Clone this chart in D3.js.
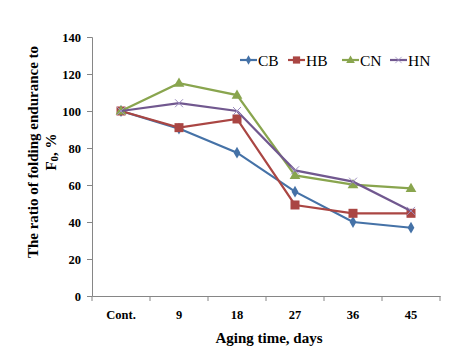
<!DOCTYPE html>
<html><head><meta charset="utf-8">
<script src="https://cdn.jsdelivr.net/npm/d3@7"></script>
<style>body{margin:0;background:#fff}svg{display:block}</style>
</head><body>
<svg id="c" width="467" height="358"></svg>
<script>
const categories = ["Cont.", "9", "18", "27", "36", "45"];
const seriesNames = ["CB", "HB", "CN", "HN"];
const CB = [100, 90.5, 77.5, 56.4, 40, 36.9];
const HB = [100, 91, 95.7, 49.2, 44.7, 44.7];
const CN = [100, 115, 108.6, 65.2, 60.2, 58.2];
const HN = [100, 104.2, 100, 67.9, 61.8, 46];
const yTicks = [0, 20, 40, 60, 80, 100, 120, 140];

const colors = {CB:"#4572A7", HB:"#AA4643", CN:"#89A54E", HN:"#71588F"};
const data = {CB, HB, CN, HN};

const svg = d3.select("#c");
const m = {l:92, r:27, t:37, b:62};
const W = 467, H = 358;
const x = d3.scaleBand().domain(categories).range([m.l, W - m.r]);
const y = d3.scaleLinear().domain([0, 140]).range([H - m.b, m.t]);

const font = "'Liberation Serif','Times New Roman',serif";
const axisColor = "#868686";

// y axis
const ya = svg.append("g").attr("transform", `translate(${m.l},0)`)
  .call(d3.axisLeft(y).tickValues(yTicks).tickSize(5).tickPadding(6));
ya.select(".domain").attr("stroke", axisColor);
ya.selectAll(".tick line").attr("stroke", axisColor);
ya.selectAll("text").attr("font-family", font).attr("font-size", 12.5).attr("font-weight", "bold").attr("fill", "#000");

// x axis
const xa = svg.append("g").attr("transform", `translate(0,${H - m.b})`)
  .call(d3.axisBottom(x).tickSize(0).tickPadding(14));
xa.select(".domain").attr("stroke", axisColor);
xa.selectAll("text").attr("font-family", font).attr("font-size", 12.5).attr("font-weight", "bold").attr("fill", "#000");
const bounds = categories.map(c => x(c)).concat([x(categories[categories.length-1]) + x.bandwidth()]);
svg.append("g").selectAll("line").data(bounds).join("line")
  .attr("x1", d => d).attr("x2", d => d)
  .attr("y1", H - m.b).attr("y2", H - m.b + 5)
  .attr("stroke", axisColor);

// titles
svg.append("text").attr("x", 269).attr("y", 343)
  .attr("text-anchor", "middle").attr("font-family", font).attr("font-size", 15).attr("font-weight", "bold")
  .text("Aging time, days");
const yt = svg.append("text").attr("transform", "translate(38,152) rotate(-90)")
  .attr("text-anchor", "middle").attr("font-family", font).attr("font-size", 15).attr("font-weight", "bold");
yt.append("tspan").attr("x", 0).attr("dy", 0).text("The ratio of folding endurance to");
yt.append("tspan").attr("x", 0).attr("dy", 18).text("F");
yt.append("tspan").attr("font-size", 11).attr("dy", 2).text("0");
yt.append("tspan").attr("dy", -2).text(", %");

function marker(g, name, cx, cy) {
  const c = colors[name];
  if (name === "CB") {
    g.append("path").attr("d", d3.symbol(d3.symbolDiamond, 40)()).attr("transform", `translate(${cx},${cy})`).attr("fill", c);
  } else if (name === "HB") {
    g.append("rect").attr("x", cx-4.5).attr("y", cy-4.5).attr("width", 9).attr("height", 9).attr("fill", c);
  } else if (name === "CN") {
    g.append("path").attr("d", d3.symbol(d3.symbolTriangle, 50)()).attr("transform", `translate(${cx},${cy+0.5})`).attr("fill", c);
  } else {
    g.append("path").attr("d", `M${cx-4},${cy-4}L${cx+4},${cy+4}M${cx-4},${cy+4}L${cx+4},${cy-4}`).attr("stroke", "#9e8fc0").attr("stroke-width", 1);
  }
}

const line = d3.line().x((d,i) => x(categories[i]) + x.bandwidth()/2).y(d => y(d));
seriesNames.forEach(name => {
  const g = svg.append("g");
  g.append("path").datum(data[name]).attr("d", line).attr("fill", "none").attr("stroke", colors[name]).attr("stroke-width", 2.2);
  data[name].forEach((v,i) => marker(g, name, x(categories[i]) + x.bandwidth()/2, y(v)));
});

// legend
const legendX = [240, 288, 342, 390];
const legendY = 60;
seriesNames.forEach((name, i) => {
  const g = svg.append("g");
  const lx = legendX[i];
  g.append("line").attr("x1", lx).attr("x2", lx + 17).attr("y1", legendY).attr("y2", legendY)
    .attr("stroke", colors[name]).attr("stroke-width", 2.2);
  const gm = g.append("g").attr("transform", `translate(${lx + 8.5},${legendY}) scale(0.8) translate(${-(lx + 8.5)},${-legendY})`);
  marker(gm, name, lx + 8.5, legendY);
  g.append("text").attr("x", lx + 18).attr("y", legendY + 5.5)
    .attr("font-family", font).attr("font-size", 15.5).text(name);
});
</script>
</body></html>
